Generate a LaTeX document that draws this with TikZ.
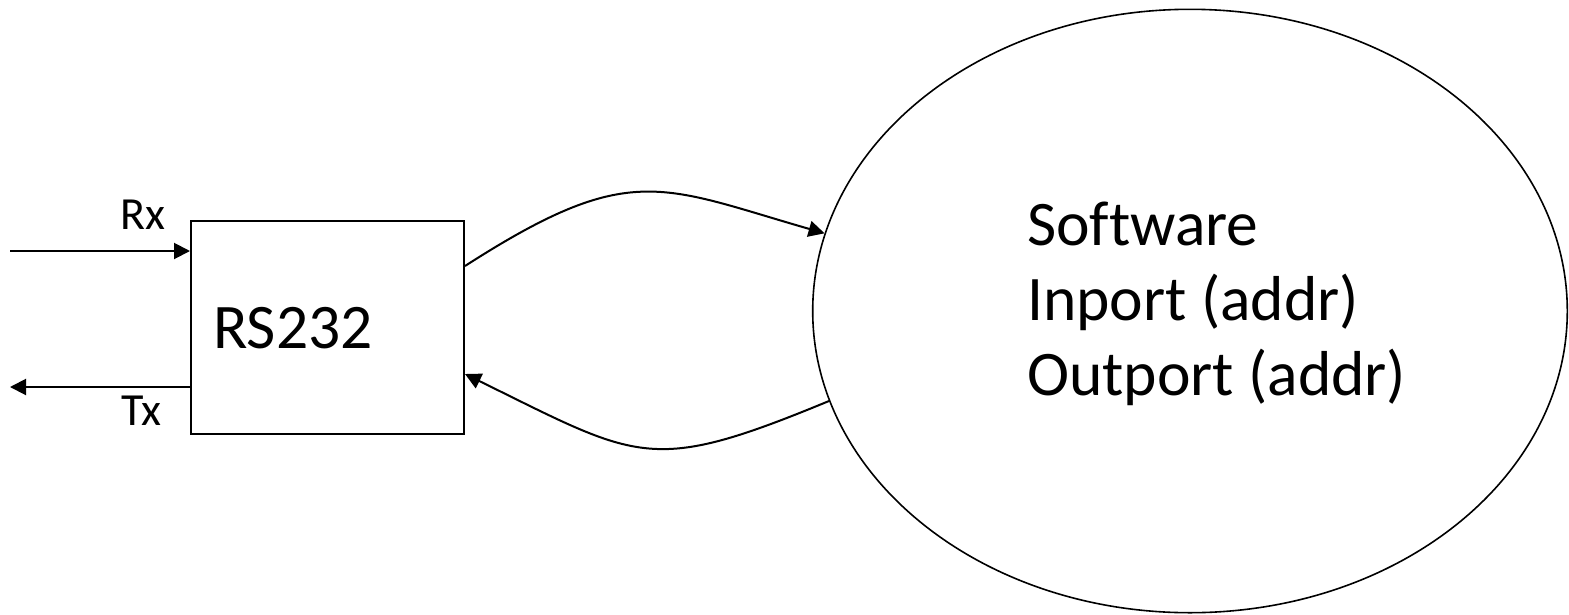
\documentclass[tikz,border=0pt]{standalone}
\usepackage{fontspec}
\setmainfont{Carlito}[Ligatures=NoCommon]
\usetikzlibrary{arrows.meta,shapes.geometric}
\tikzset{
  conn/.style={line width=2pt,-{Triangle[length=16pt,width=16pt]}},
  boxst/.style={draw,line width=2pt,rectangle,minimum width=273pt,minimum height=213pt,inner sep=0pt},
  ellst/.style={draw,line width=1.6pt,ellipse,minimum width=754.6pt,minimum height=603.4pt,inner sep=0pt},
  bigtxt/.style={inner sep=0pt,anchor=base west,font=\fontsize{63.5}{75}\selectfont,align=left},
  smalltxt/.style={inner sep=0pt,anchor=base west,font=\fontsize{46}{55}\selectfont}
}
\begin{document}
\begin{tikzpicture}[x=1pt,y=-1pt]
\useasboundingbox (0,0) rectangle (1569,614);
\node[boxst] (box) at (327.5,327.5) {};
\node[bigtxt] (rs) at (213,348) {RS232};
\node[ellst] (sw) at (1190,311) {};
\node[bigtxt] (swtxt) at (1027,395) {Software\\Inport (addr)\\Outport (addr)};
\node[smalltxt] (rx) at (120,229) {Rx};
\node[smalltxt] (tx) at (121,425) {Tx};
\coordinate (rxin) at (10,251);
\coordinate (txout) at (10,387);
\draw[conn] (rxin) -- (rxin -| box.west);
\draw[conn] (txout -| box.west) -- (txout);
\draw[conn] ([yshift=-46pt]box.north east) .. controls (630,160) and (660,186) .. (sw.168.2);
\draw[conn] (sw.194.2) .. controls (650,475) and (640,460) .. ([yshift=61pt]box.south east);
\end{tikzpicture}
\end{document}
